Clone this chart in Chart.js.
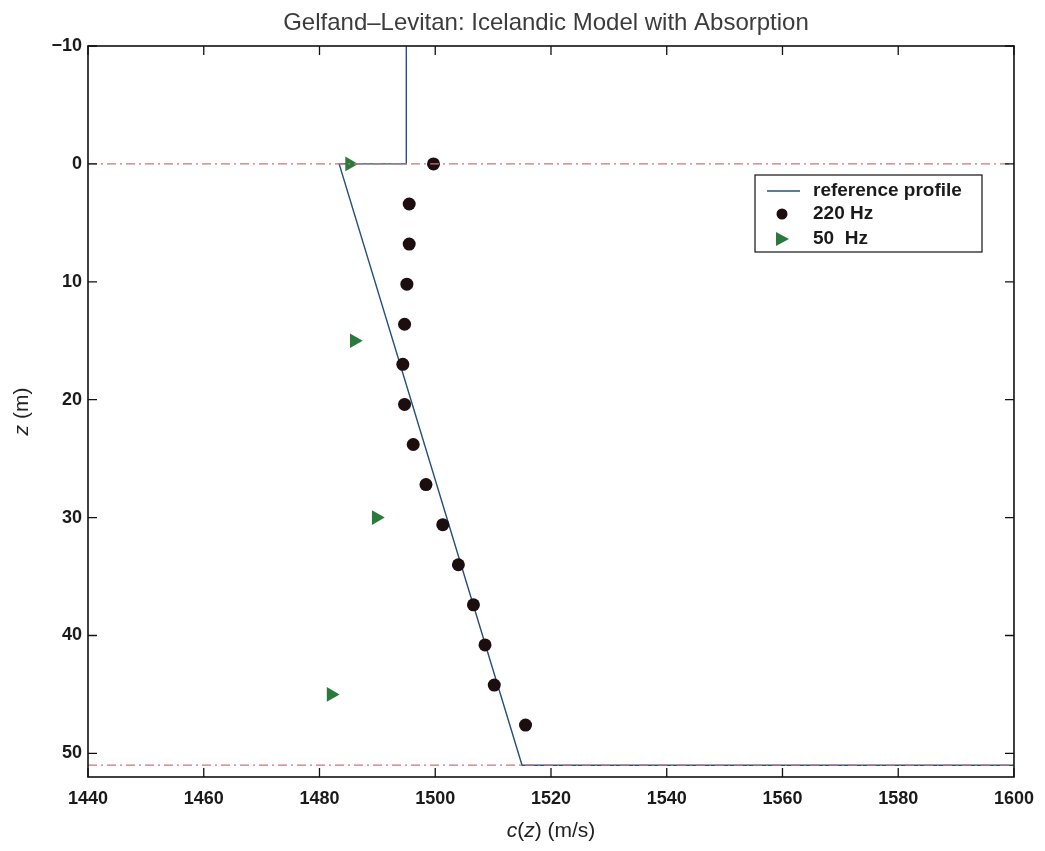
<!DOCTYPE html>
<html lang="en">
<head>
<meta charset="UTF-8">
<title>Gelfand-Levitan: Icelandic Model with Absorption</title>
<script src="https://cdn.jsdelivr.net/npm/chart.js"></script>
<style>
  body { margin: 0; background: #fff; overflow: hidden; }
  #wrap { width: 1045px; height: 851px; position: relative; }
</style>
</head>
<body>
<div id="wrap"><canvas id="profileChart"></canvas></div>

<script>
// reference sound speed profile, c (m/s) against depth z (m)
const profileC = [1495, 1495, 1483.4, 1515, 1600];
const profileZ = [-10, 0, 0, 51, 51];

// reconstruction at 220 Hz
const hz220C = [1499.7, 1495.5, 1495.5, 1495.1, 1494.7, 1494.4, 1494.7, 1496.2,
                1498.4, 1501.3, 1504.0, 1506.6, 1508.6, 1510.2, 1515.6];
const hz220Z = [0, 3.4, 6.8, 10.2, 13.6, 17, 20.4, 23.8,
                27.2, 30.6, 34, 37.4, 40.8, 44.2, 47.6];

// reconstruction at 50 Hz
const hz50C = [1485.2, 1486.0, 1489.8, 1482.0];
const hz50Z = [0, 15, 30, 45];

// interfaces (dash-dot lines)
const interfaceZ = [0, 51];

const xTicks = [1440, 1460, 1480, 1500, 1520, 1540, 1560, 1580, 1600];
const yTicks = [-10, 0, 10, 20, 30, 40, 50];

const FONT = '"Liberation Sans", Arial, sans-serif';
const pts = (cs, zs) => cs.map((c, i) => ({ x: c, y: zs[i] }));

const ifaceSets = interfaceZ.map(z => ({
    label: 'interface',
    data: [{ x: 1440, y: z }, { x: 1600, y: z }],
    showLine: true,
    borderColor: '#c9787a',
    borderWidth: 1.2,
    borderDash: [9, 4, 2, 4],
    pointRadius: 0,
    legend: false
}));

const frame = {
    id: 'frame',
    afterDraw(chart) {
        const { ctx, chartArea: a, scales: { x, y } } = chart;
        ctx.save();
        const tl = 9;
        ctx.strokeStyle = '#111';
        ctx.lineWidth = 1.3;
        ctx.beginPath();
        xTicks.forEach(v => {
            const px = x.getPixelForValue(v);
            ctx.moveTo(px, a.bottom); ctx.lineTo(px, a.bottom - tl);
            ctx.moveTo(px, a.top); ctx.lineTo(px, a.top + tl);
        });
        yTicks.forEach(v => {
            const py = y.getPixelForValue(v);
            ctx.moveTo(a.left, py); ctx.lineTo(a.left + tl, py);
            ctx.moveTo(a.right, py); ctx.lineTo(a.right - tl, py);
        });
        ctx.stroke();
        ctx.lineWidth = 1.6;
        ctx.strokeRect(a.left, a.top, a.right - a.left, a.bottom - a.top);

        // title
        ctx.fillStyle = '#3c3c3c';
        ctx.font = '24px ' + FONT;
        ctx.textAlign = 'center';
        ctx.textBaseline = 'middle';
        ctx.fillText('Gelfand\u2013Levitan: Icelandic Model with Absorption', (a.left + a.right) / 2 - 5, 23);

        // x axis title with italic c and z
        const parts = [['c', true], ['(', false], ['z', true], [') (m/s)', false]];
        const fontOf = it => (it ? 'italic ' : '') + '21px ' + FONT;
        let w = 0;
        parts.forEach(p => { ctx.font = fontOf(p[1]); w += ctx.measureText(p[0]).width; });
        let cx = (a.left + a.right) / 2 - w / 2;
        ctx.fillStyle = '#222';
        ctx.textAlign = 'left';
        parts.forEach(p => {
            ctx.font = fontOf(p[1]);
            ctx.fillText(p[0], cx, 831);
            cx += ctx.measureText(p[0]).width;
        });

        // y axis title
        ctx.save();
        ctx.translate(22, (a.top + a.bottom) / 2);
        ctx.rotate(-Math.PI / 2);
        const yparts = [['z', true], [' (m)', false]];
        w = 0;
        yparts.forEach(p => { ctx.font = fontOf(p[1]); w += ctx.measureText(p[0]).width; });
        cx = -w / 2;
        yparts.forEach(p => {
            ctx.font = fontOf(p[1]);
            ctx.fillText(p[0], cx, 0);
            cx += ctx.measureText(p[0]).width;
        });
        ctx.restore();

        // legend
        const lx = 755, ly = 175, lw = 227, lh = 77;
        ctx.fillStyle = '#fff';
        ctx.fillRect(lx, ly, lw, lh);
        ctx.strokeStyle = '#111';
        ctx.lineWidth = 1.2;
        ctx.strokeRect(lx, ly, lw, lh);
        const items = chart.data.datasets.filter(d => d.legend !== false);
        const rows = [191, 214, 239];
        ctx.font = 'bold 19px ' + FONT;
        items.forEach((d, i) => {
            const ry = rows[i];
            if (d.showLine) {
                ctx.strokeStyle = d.borderColor;
                ctx.lineWidth = 1.4;
                ctx.beginPath(); ctx.moveTo(767, ry); ctx.lineTo(800, ry); ctx.stroke();
            } else if (d.pointStyle === 'triangle') {
                ctx.fillStyle = d.backgroundColor;
                ctx.beginPath();
                ctx.moveTo(776, ry - 7); ctx.lineTo(789, ry); ctx.lineTo(776, ry + 7);
                ctx.closePath(); ctx.fill();
            } else {
                ctx.fillStyle = d.backgroundColor;
                ctx.beginPath(); ctx.arc(782, ry, 5.5, 0, Math.PI * 2); ctx.fill();
            }
            ctx.fillStyle = '#1a1a1a';
            ctx.fillText(d.label, 813, ry);
        });
        ctx.restore();
    }
};

new Chart(document.getElementById('profileChart'), {
    type: 'scatter',
    data: {
        datasets: [
            {
                label: 'reference profile',
                data: pts(profileC, profileZ),
                showLine: true,
                borderColor: '#24507f',
                borderWidth: 1.4,
                pointRadius: 0,
                order: 3
            },
            {
                label: '220 Hz',
                data: pts(hz220C, hz220Z),
                pointStyle: 'circle',
                pointRadius: 6.5,
                backgroundColor: '#1c0d0f',
                borderColor: '#1c0d0f',
                borderWidth: 0,
                order: 1
            },
            {
                label: '50  Hz',
                data: pts(hz50C, hz50Z),
                pointStyle: 'triangle',
                rotation: 90,
                pointRadius: 8.5,
                backgroundColor: '#2a7a3c',
                borderColor: '#2a7a3c',
                borderWidth: 0,
                order: 2
            },
            ...ifaceSets
        ]
    },
    options: {
        responsive: true,
        maintainAspectRatio: false,
        animation: false,
        layout: { padding: { top: 46, right: 27, left: 0, bottom: 0 } },
        plugins: {
            legend: { display: false },
            title: { display: false },
            tooltip: { enabled: false }
        },
        scales: {
            x: {
                type: 'linear',
                min: 1440,
                max: 1600,
                afterFit: s => { s.height = 74; },
                afterBuildTicks: s => { s.ticks = xTicks.map(v => ({ value: v })); },
                grid: { display: false, drawTicks: false },
                border: { display: false },
                ticks: {
                    padding: 11,
                    color: '#1a1a1a',
                    font: { family: FONT, size: 18, weight: 'bold' },
                    callback: v => String(v)
                }
            },
            y: {
                type: 'linear',
                reverse: true,
                min: -10,
                max: 52,
                afterFit: s => { s.width = 88; },
                afterBuildTicks: s => { s.ticks = yTicks.map(v => ({ value: v })); },
                grid: { display: false, drawTicks: false },
                border: { display: false },
                ticks: {
                    padding: 6,
                    color: '#1a1a1a',
                    font: { family: FONT, size: 18, weight: 'bold' },
                    callback: v => String(v).replace('-', '\u2212')
                }
            }
        }
    },
    plugins: [frame]
});
</script>
</body>
</html>
